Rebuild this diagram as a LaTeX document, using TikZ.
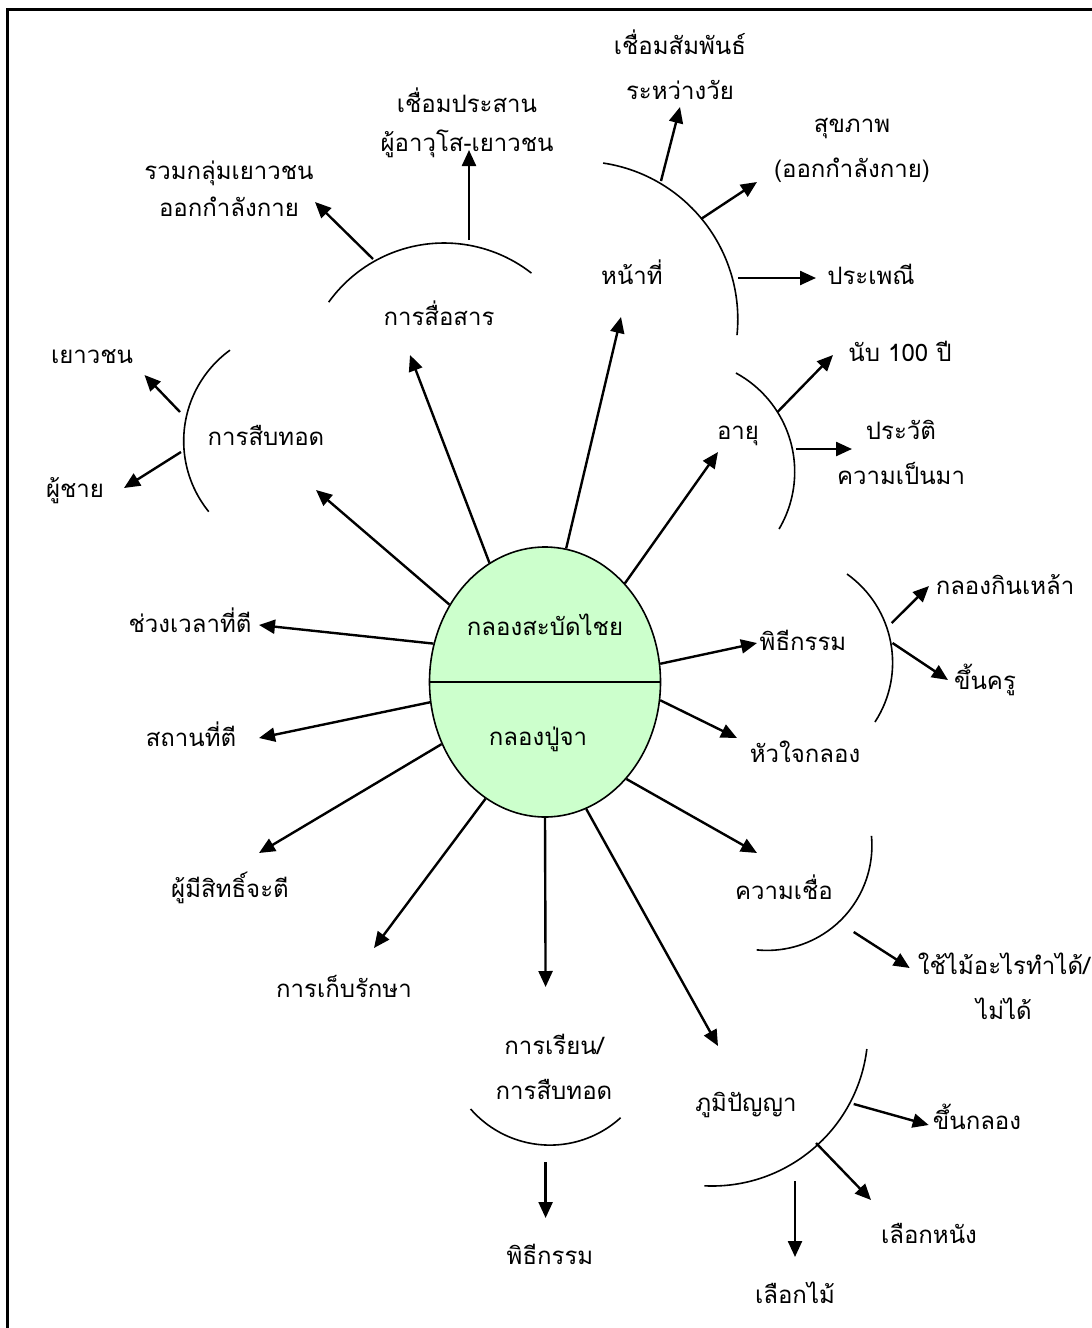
\documentclass[tikz,border=0pt]{standalone}
\usepackage{fontspec}
\newfontfamily\thaifont[Script=Thai]{Loma}
\usetikzlibrary{shapes.geometric,arrows.meta}
\definecolor{drumgreen}{HTML}{CCFFCC}

\tikzset{
  lbl/.style={font=\thaifont\fontsize{24}{45}\selectfont,inner sep=0pt,anchor=base,align=center},
  arr/.style={-{Triangle[length=16pt,width=14pt]},line width=2.4pt},
  bow/.style={line width=1.6pt},
}

\begin{document}
\begin{tikzpicture}[x=1pt,y=-1pt]
  \useasboundingbox (0,0) rectangle (1092,1328);
  \draw[line width=2.2pt] (7.5,1332) -- (7.5,9.5) -- (1096,9.5);

  \node[ellipse,draw,line width=1.6pt,fill=drumgreen,minimum width=231pt,minimum height=270pt] (drum) at (545,682) {};
  \draw[line width=1.6pt] (drum.west) -- (drum.east);

  \begin{scope}[every node/.style={lbl}]
    \node (top)    at (545,635)  {กลองสะบัดไชย};
    \node (bottom) at (538,745)  {กลองปู่จา};

    \node (com)    at (439,325)  {การสื่อสาร};
    \node (duty)   at (632,284)  {หน้าที่};
    \node (age)    at (738,439)  {อายุ};
    \node (rite)   at (803,650)  {พิธีกรรม};
    \node (heart)  at (805,762)  {หัวใจกลอง};
    \node (belief) at (784,899)  {ความเชื่อ};
    \node (wis)    at (746,1111) {ภูมิปัญญา};
    \node (learn)  at (554,1099) {การเรียน/\\การสืบทอด};
    \node (keep)   at (344,997)  {การเก็บรักษา};
    \node (who)    at (230,897)  {ผู้มีสิทธิ์จะตี};
    \node (place)  at (191,746)  {สถานที่ตี};
    \node (time)   at (190,632)  {ช่วงเวลาที่ตี};
    \node (inh)    at (266,445)  {การสืบทอด};

    \node (group)  at (229,216)  {รวมกลุ่มเยาวชน\\[-8pt]ออกกำลังกาย};
    \node (link)   at (467,151)  {เชื่อมประสาน\\[-6pt]ผู้อาวุโส-เยาวชน};
    \node (bond)   at (680,99)   {เชื่อมสัมพันธ์\\ระหว่างวัย};
    \node (health) at (852,177)  {สุขภาพ\\(ออกกำลังกาย)};
    \node (trad)   at (871,284)  {ประเพณี};
    \node (count)  at (900,361)  {นับ 100 ปี};
    \node (hist)   at (901,484)  {ประวัติ\\ความเป็นมา};
    \node (drink)  at (1005,594) {กลองกินเหล้า};
    \node (teach)  at (985,689)  {ขึ้นครู};
    \node (wood)   at (1004,1019) {ใช้ไม้อะไรทำได้/\\ไม่ได้};
    \node (rite2)  at (550,1264) {พิธีกรรม};
    \node (skin)   at (977,1129) {ขึ้นกลอง};
    \node (hide)   at (929,1243) {เลือกหนัง};
    \node (pick)   at (795,1303) {เลือกไม้};
    \node (youth)  at (92,363)   {เยาวชน};
    \node (men)    at (75,497)   {ผู้ชาย};
  \end{scope}

  % arc centres
  \coordinate (cCom)    at (444,385);
  \coordinate (cDuty)   at (579.7,319.4);
  \coordinate (cAge)    at (682.3,471.8);
  \coordinate (cRite)   at (783.8,662.6);
  \coordinate (cBelief) at (767.1,845.6);
  \coordinate (cLearn)  at (549.9,1040);
  \coordinate (cWis)    at (712,1030);
  \coordinate (cInh)    at (296,441);

  \begin{scope}[bow]
    \draw ([shift={(144.3:142pt)}]cCom) arc[start angle=144.3,end angle=52,radius=142pt];
    \draw ([shift={(81.5:158.1pt)}]cDuty) arc[start angle=81.5,end angle=-5.7,radius=158.1pt];
    \draw ([shift={(61.5:112.4pt)}]cAge) arc[start angle=61.5,end angle=-30.6,radius=112.4pt];
    \draw ([shift={(54.5:108.8pt)}]cRite) arc[start angle=54.5,end angle=-33.1,radius=108.8pt];
    \draw ([shift={(5.3:104.8pt)}]cBelief) arc[start angle=5.3,end angle=-95.7,radius=104.8pt];
    \draw ([shift={(221:105.1pt)}]cLearn) arc[start angle=221,end angle=312.3,radius=105.1pt];
    \draw ([shift={(-7:156pt)}]cWis) arc[start angle=-7,end angle=-92.8,radius=156pt];
    \draw ([shift={(126:112.3pt)}]cInh) arc[start angle=126,end angle=219,radius=112.3pt];
  \end{scope}

  % arrow tips
  \coordinate (tCom)    at (410,355);
  \coordinate (tDuty)   at (621,317);
  \coordinate (tAge)    at (718,452);
  \coordinate (tRite)   at (757,643);
  \coordinate (tHeart)  at (737,738);
  \coordinate (tBelief) at (757,853);
  \coordinate (tWis)    at (718,1046);
  \coordinate (tLearn)  at (545.6,987);
  \coordinate (tKeep)   at (374,948);
  \coordinate (tWho)    at (259,853);
  \coordinate (tPlace)  at (259,738);
  \coordinate (tTime)   at (259,625);
  \coordinate (tInh)    at (316,490);

  \begin{scope}[every path/.style={arr}]
    \draw (drum.115.6) -- (tCom);
    \draw (drum.81.6)  -- (tDuty);
    \draw (drum.51.8)  -- (tAge);
    \draw (drum.9.8)   -- (tRite);
    \draw (drum.-9.8)  -- (tHeart);
    \draw (drum.-50.5) -- (tBelief);
    \draw (drum.-72.6) -- (tWis);
    \draw (drum.-90)   -- (tLearn);
    \draw (drum.-117)  -- (tKeep);
    \draw (drum.211.4) -- (tWho);
    \draw (drum.190)   -- (tPlace);
    \draw (drum.161.3) -- (tTime);
    \draw (drum.141.3) -- (tInh);
  \end{scope}

  % second level
  \coordinate (a1) at (373,259);    \coordinate (b1) at (315,202);
  \coordinate (a2) at (469,240);    \coordinate (b2) at (469,150);
  \coordinate (a3) at (661,181);    \coordinate (b3) at (680,107);
  \coordinate (a4) at (701,219);    \coordinate (b4) at (757,182);
  \coordinate (a5) at (738,278);    \coordinate (b5) at (816,278);
  \coordinate (a6) at (777.5,412);  \coordinate (b6) at (833,355);
  \coordinate (a7) at (796,449);    \coordinate (b7) at (852,449);
  \coordinate (a8) at (891.7,623);  \coordinate (b8) at (929,586);
  \coordinate (a9) at (892.5,643);  \coordinate (b9) at (948,680);
  \coordinate (a10) at (853.7,932); \coordinate (b10) at (909.7,968);
  \coordinate (a11) at (545.6,1162);\coordinate (b11) at (545.6,1218);
  \coordinate (a12) at (853.7,1104);\coordinate (b12) at (928.7,1125);
  \coordinate (a13) at (816,1143);  \coordinate (b13) at (871,1200);
  \coordinate (a14) at (795,1181);  \coordinate (b14) at (795,1257);
  \coordinate (a15) at (180,412);   \coordinate (b15) at (144.5,375);
  \coordinate (a16) at (181,452);   \coordinate (b16) at (124,488);

  \foreach \i in {1,...,16}
    \draw[arr] (a\i) -- (b\i);

\end{tikzpicture}
\end{document}
